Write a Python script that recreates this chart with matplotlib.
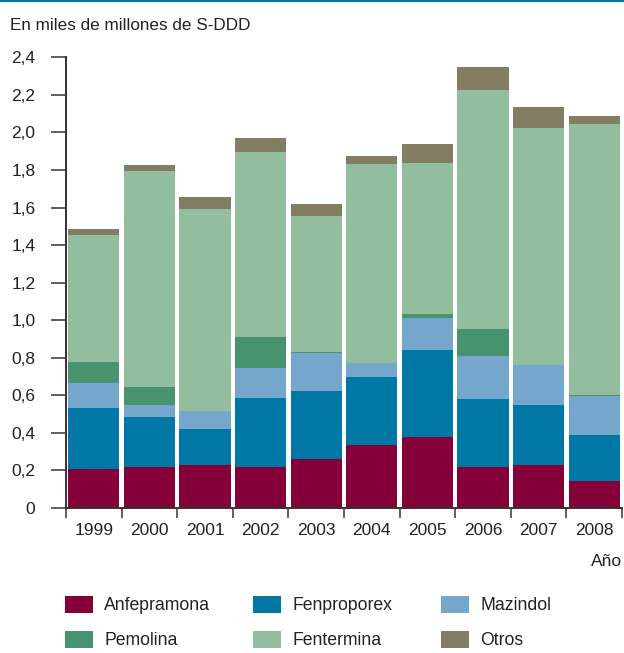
import matplotlib.pyplot as plt
from matplotlib.lines import Line2D
from matplotlib.patches import Patch
import numpy as np

plt.rcParams['font.family'] = ['Liberation Sans', 'DejaVu Sans']

years = ['1999', '2000', '2001', '2002', '2003', '2004', '2005', '2006', '2007', '2008']

# segment heights (stack order bottom -> top)
anfepramona = [0.21, 0.22, 0.23, 0.22, 0.26, 0.335, 0.38, 0.22, 0.23, 0.145]
fenproporex = [0.32, 0.267, 0.193, 0.368, 0.362, 0.365, 0.464, 0.358, 0.32, 0.245]
mazindol = [0.138, 0.064, 0.096, 0.16, 0.205, 0.07, 0.166, 0.234, 0.209, 0.204]
pemolina = [0.112, 0.091, 0.0, 0.16, 0.005, 0.0, 0.021, 0.139, 0.0, 0.006]
fentermina = [0.672, 1.152, 1.072, 0.987, 0.722, 1.06, 0.805, 1.274, 1.264, 1.444]
otros = [0.032, 0.032, 0.064, 0.075, 0.064, 0.044, 0.102, 0.123, 0.112, 0.043]

series = [('Anfepramona', anfepramona, '#850038'),
          ('Fenproporex', fenproporex, '#0077a5'),
          ('Mazindol', mazindol, '#74a7cb'),
          ('Pemolina', pemolina, '#479370'),
          ('Fentermina', fentermina, '#92bd9f'),
          ('Otros', otros, '#837e63')]

yticks = [0, 0.2, 0.4, 0.6, 0.8, 1.0, 1.2, 1.4, 1.6, 1.8, 2.0, 2.2, 2.4]
ytick_labels = ['0', '0,2', '0,4', '0,6', '0,8', '1,0', '1,2', '1,4', '1,6', '1,8', '2,0', '2,2', '2,4']

fig = plt.figure(figsize=(6.24, 6.53), dpi=100)
ax = fig.add_axes([66 / 624, 145 / 653, 556 / 624, 450.7 / 653])

x = np.arange(len(years))
bottom = np.zeros(len(years))
for name, vals, col in series:
    ax.bar(x, vals, width=0.92, bottom=bottom, color=col, linewidth=0)
    bottom += np.array(vals)

ax.set_xlim(-0.5, len(years) - 0.5)
ax.set_ylim(0, 2.4)

txt = '#222222'
fs = 12.5
for s in ['top', 'right']:
    ax.spines[s].set_visible(False)
for s in ['left', 'bottom']:
    ax.spines[s].set_linewidth(1.4)
    ax.spines[s].set_color('#333333')

ax.set_yticks(yticks)
ax.set_yticklabels(ytick_labels)
ax.tick_params(axis='y', length=11, width=1.2, color='#444444', pad=11,
               labelsize=fs, labelcolor=txt)

ax.set_xticks(x)
ax.set_xticklabels(years)
ax.set_xticks(np.arange(len(years) + 1) - 0.5, minor=True)
ax.tick_params(axis='x', which='major', length=0, pad=11, labelsize=fs, labelcolor=txt)
ax.tick_params(axis='x', which='minor', length=7, width=1.2, color='#444444')

fig.text(10 / 624, 1 - 25 / 653, 'En miles de millones de S-DDD', fontsize=12.3,
         color=txt, va='center', ha='left')
fig.text(622 / 624, 1 - 561 / 653, 'Año', fontsize=fs, color=txt,
         va='center', ha='right')

# thin rule at the top of the graphic
fig.add_artist(Line2D([0, 1], [1 - 1 / 653, 1 - 1 / 653], transform=fig.transFigure,
                      color='#0077a5', linewidth=1.5))

# legend: three columns of two entries each
col_x = [65, 253, 441]
for i in range(3):
    items = [series[i], series[i + 3]]
    handles = [Patch(facecolor=c, edgecolor='none') for _, _, c in items]
    labels = [n for n, _, _ in items]
    fig.legend(handles, labels, loc='upper left',
               bbox_to_anchor=(col_x[i] / 624, 1 - 596 / 653),
               frameon=False, fontsize=12.7, handlelength=1.59, handleheight=1.08,
               handletextpad=0.63, labelspacing=0.95, borderpad=0, borderaxespad=0,
               labelcolor=txt)

fig.savefig('out.png', dpi=100)
